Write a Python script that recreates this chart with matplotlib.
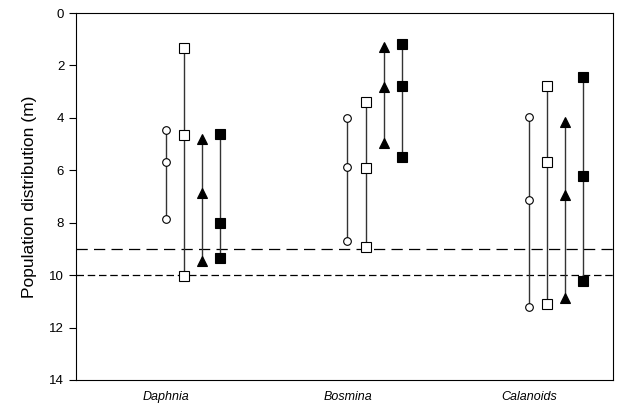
import numpy as np
import matplotlib
matplotlib.use("Agg")
import matplotlib.pyplot as plt

plt.rcParams["font.family"] = ["Liberation Sans", "DejaVu Sans"]

groups = ["Daphnia", "Bosmina", "Calanoids"]

# depth (m) for each series: [top, middle, bottom] per group
open_circle = [[4.47, 5.70, 7.87], [4.02, 5.87, 8.69], [3.98, 7.14, 11.23]]
open_square = [[1.35, 4.66, 10.04], [3.38, 5.90, 8.92], [2.79, 5.67, 11.11]]
filled_triangle = [[4.80, 6.88, 9.45], [1.31, 2.81, 4.97], [4.15, 6.95, 10.87]]
filled_square = [[4.62, 8.00, 9.33], [1.18, 2.79, 5.48], [2.43, 6.21, 10.23]]

series = [
    (open_circle, "o", "white", 5.5),
    (open_square, "s", "white", 6.5),
    (filled_triangle, "^", "black", 6.5),
    (filled_square, "s", "black", 6.5),
]
offsets = [0.0, 0.1, 0.2, 0.3]

fig = plt.figure(figsize=(6.27, 4.05), dpi=100)
ax = fig.add_axes([76 / 627, 25 / 405, 537 / 627, 367 / 405])

base = np.arange(1, len(groups) + 1)
for (vals, marker, face, ms), off in zip(series, offsets):
    for i, v in enumerate(vals):
        xs = [base[i] + off] * len(v)
        ax.plot(xs, v, color="#333333", lw=1.0, zorder=2)
        ax.plot(xs, v, linestyle="none", marker=marker, ms=ms,
                mfc=face, mec="black", mew=0.8, zorder=3)

ax.axhline(9, color="black", lw=0.9, dashes=(9, 5), zorder=1)
ax.axhline(10, color="black", lw=0.9, dashes=(6, 3), zorder=1)

ax.set_xlim(0.504, 3.463)
ax.set_ylim(14, 0)
ax.set_yticks(np.arange(0, 15, 2))
ax.set_xticks(base)
ax.set_xticklabels(groups, style="italic", fontsize=9)
ax.tick_params(axis="x", length=0, pad=8)
ax.tick_params(axis="y", direction="out", length=5, labelsize=9.5, width=0.8)
ax.set_ylabel("Population distribution (m)", fontsize=12.5, labelpad=9)
for s in ax.spines.values():
    s.set_linewidth(0.8)

fig.savefig("out.png", dpi=100)
